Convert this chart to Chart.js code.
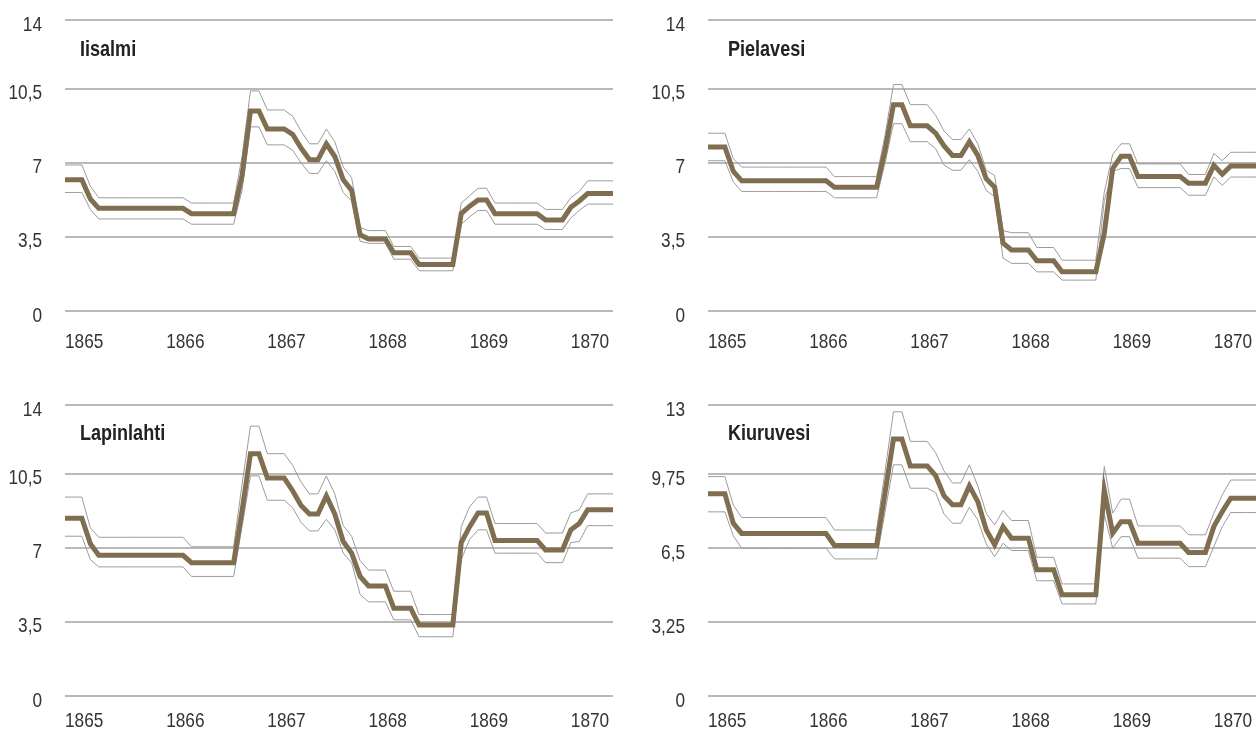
<!DOCTYPE html>
<html>
<head>
<meta charset="utf-8">
<script src="https://cdn.jsdelivr.net/npm/chart.js@4.4.1/dist/chart.umd.min.js"></script>
<style>
html, body { margin: 0; padding: 0; background: #fff; width: 1256px; height: 731px; overflow: hidden; }
.panel { position: absolute; }
.title { position: absolute; font-family: 'Liberation Sans', Arial, sans-serif; font-weight: bold; font-size: 22px; line-height: 1; color: #222; white-space: nowrap; transform: scaleX(0.82); transform-origin: 0 0; }
</style>
</head>
<body>
<div class="panel" style="left:0px;top:0px;width:613px;height:360px"><canvas id="c1"></canvas></div>
<div class="panel" style="left:643px;top:0px;width:613px;height:360px"><canvas id="c2"></canvas></div>
<div class="panel" style="left:0px;top:385px;width:613px;height:346px"><canvas id="c3"></canvas></div>
<div class="panel" style="left:643px;top:385px;width:613px;height:346px"><canvas id="c4"></canvas></div>
<div class="title" style="left:80px;top:38px">Iisalmi</div>
<div class="title" style="left:728px;top:38px">Pielavesi</div>
<div class="title" style="left:80px;top:422px">Lapinlahti</div>
<div class="title" style="left:728px;top:422px">Kiuruvesi</div>
<script>
// ---- tick labels ----
const yearTicks = [0, 12, 24, 36, 48, 60];           // month index of January each year
const yearLabels = ['1865', '1866', '1867', '1868', '1869', '1870'];
const yTicks14 = [0, 3.5, 7, 10.5, 13.75];
const yLabels14 = ['0', '3,5', '7', '10,5', '14'];
const yTicks13 = [0, 3.25, 6.5, 9.75, 12.8];
const yLabels13 = ['0', '3,25', '6,5', '9,75', '13'];

// ---- series (monthly values, Jan 1865 onward) ----
const iisalmiMain = [6.2, 6.2, 6.2, 5.3,
  4.85, 4.85, 4.85, 4.85, 4.85, 4.85, 4.85, 4.85, 4.85, 4.85, 4.85,
  4.6, 4.6, 4.6, 4.6, 4.6, 4.6,
  6.4, 9.45, 9.45, 8.6, 8.6, 8.6, 8.35, 7.7, 7.15, 7.15,
  7.9, 7.3, 6.2, 5.7, 3.6, 3.4, 3.4, 3.4, 2.75, 2.75, 2.75,
  2.2, 2.2, 2.2, 2.2, 2.2,
  4.6, 4.95, 5.25, 5.25,
  4.6, 4.6, 4.6, 4.6, 4.6, 4.6,
  4.3, 4.3, 4.3, 4.9, 5.2,
  5.55, 5.55, 5.55, 5.55];
const iisalmiHigh = [6.9, 6.9, 6.9, 5.9,
  5.35, 5.35, 5.35, 5.35, 5.35, 5.35, 5.35, 5.35, 5.35, 5.35, 5.35,
  5.1, 5.1, 5.1, 5.1, 5.1, 5.1,
  7.3, 10.4, 10.4, 9.5, 9.5, 9.5, 9.2, 8.5, 7.9, 7.9,
  8.6, 8.0, 6.8, 6.3, 3.95, 3.8, 3.8, 3.8, 3.05, 3.05, 3.05,
  2.5, 2.5, 2.5, 2.5, 2.5,
  5.1, 5.45, 5.8, 5.8,
  5.1, 5.1, 5.1, 5.1, 5.1, 5.1,
  4.8, 4.8, 4.8, 5.35, 5.65,
  6.15, 6.15, 6.15, 6.15];
const iisalmiLow = [5.6, 5.6, 5.6, 4.8,
  4.35, 4.35, 4.35, 4.35, 4.35, 4.35, 4.35, 4.35, 4.35, 4.35, 4.35,
  4.1, 4.1, 4.1, 4.1, 4.1, 4.1,
  5.7, 8.7, 8.7, 7.85, 7.85, 7.85, 7.6, 7.0, 6.5, 6.5,
  7.1, 6.6, 5.6, 5.2, 3.3, 3.2, 3.2, 3.2, 2.45, 2.45, 2.45,
  1.9, 1.9, 1.9, 1.9, 1.9,
  4.1, 4.45, 4.75, 4.75,
  4.1, 4.1, 4.1, 4.1, 4.1, 4.1,
  3.85, 3.85, 3.85, 4.4, 4.75,
  5.05, 5.05, 5.05, 5.05];

const pielavesiMain = [7.75, 7.75, 7.75, 6.6,
  6.15, 6.15, 6.15, 6.15, 6.15, 6.15, 6.15, 6.15, 6.15, 6.15, 6.15,
  5.85, 5.85, 5.85, 5.85, 5.85, 5.85,
  7.6, 9.75, 9.75, 8.75, 8.75, 8.75, 8.4, 7.8, 7.35, 7.35,
  8.0, 7.35, 6.25, 5.85, 3.2, 2.88, 2.88, 2.88, 2.38, 2.38, 2.38,
  1.85, 1.85, 1.85, 1.85, 1.85,
  3.66, 6.73, 7.31, 7.31,
  6.35, 6.35, 6.35, 6.35, 6.35, 6.35,
  6.04, 6.04, 6.04, 6.88, 6.46,
  6.85, 6.85, 6.85, 6.85];
const pielavesiHigh = [8.4, 8.4, 8.4, 7.2,
  6.8, 6.8, 6.8, 6.8, 6.8, 6.8, 6.8, 6.8, 6.8, 6.8, 6.8,
  6.35, 6.35, 6.35, 6.35, 6.35, 6.35,
  8.3, 10.7, 10.7, 9.75, 9.75, 9.75, 9.25, 8.5, 8.1, 8.1,
  8.6, 7.9, 6.65, 6.4, 3.8, 3.7, 3.7, 3.7, 3.0, 3.0, 3.0,
  2.4, 2.4, 2.4, 2.4, 2.4,
  5.6, 7.4, 7.9, 7.9,
  6.95, 6.95, 6.95, 6.95, 6.95, 6.95,
  6.45, 6.45, 6.45, 7.45, 7.1,
  7.5, 7.5, 7.5, 7.5];
const pielavesiLow = [7.1, 7.1, 7.1, 6.1,
  5.65, 5.65, 5.65, 5.65, 5.65, 5.65, 5.65, 5.65, 5.65, 5.65, 5.65,
  5.35, 5.35, 5.35, 5.35, 5.35, 5.35,
  7.0, 8.85, 8.85, 8.0, 8.0, 8.0, 7.67, 6.9, 6.65, 6.65,
  7.15, 6.6, 5.7, 5.4, 2.5, 2.25, 2.25, 2.25, 1.85, 1.85, 1.85,
  1.46, 1.46, 1.46, 1.46, 1.46,
  5.2, 6.6, 6.73, 6.73,
  5.83, 5.83, 5.83, 5.83, 5.83, 5.83,
  5.47, 5.47, 5.47, 6.33, 5.94,
  6.33, 6.33, 6.33, 6.33];

const lapinlahtiMain = [8.4, 8.4, 8.4, 7.2,
  6.65, 6.65, 6.65, 6.65, 6.65, 6.65, 6.65, 6.65, 6.65, 6.65, 6.65,
  6.3, 6.3, 6.3, 6.3, 6.3, 6.3,
  8.75, 11.45, 11.45, 10.3, 10.3, 10.3, 9.7, 9.0, 8.6, 8.6,
  9.45, 8.6, 7.3, 6.75, 5.65, 5.2, 5.2, 5.2, 4.15, 4.15, 4.15,
  3.35, 3.35, 3.35, 3.35, 3.35,
  7.25, 8.0, 8.65, 8.65,
  7.35, 7.35, 7.35, 7.35, 7.35, 7.35,
  6.9, 6.9, 6.9, 7.85, 8.15,
  8.8, 8.8, 8.8, 8.8];
const lapinlahtiHigh = [9.4, 9.4, 9.4, 7.95,
  7.5, 7.5, 7.5, 7.5, 7.5, 7.5, 7.5, 7.5, 7.5, 7.5, 7.5,
  7.05, 7.05, 7.05, 7.05, 7.05, 7.05,
  10.0, 12.75, 12.75, 11.45, 11.45, 11.45, 10.9, 10.1, 9.55, 9.55,
  10.4, 9.55, 8.05, 7.55, 6.4, 5.95, 5.95, 5.95, 4.95, 4.95, 4.95,
  3.85, 3.85, 3.85, 3.85, 3.85,
  8.0, 8.95, 9.4, 9.4,
  8.15, 8.15, 8.15, 8.15, 8.15, 8.15,
  7.7, 7.7, 7.7, 8.65, 8.8,
  9.55, 9.55, 9.55, 9.55];
const lapinlahtiLow = [7.55, 7.55, 7.55, 6.45,
  6.1, 6.1, 6.1, 6.1, 6.1, 6.1, 6.1, 6.1, 6.1, 6.1, 6.1,
  5.65, 5.65, 5.65, 5.65, 5.65, 5.65,
  8.0, 10.4, 10.4, 9.25, 9.25, 9.25, 8.9, 8.2, 7.8, 7.8,
  8.35, 7.85, 6.75, 6.3, 4.8, 4.45, 4.45, 4.45, 3.6, 3.6, 3.6,
  2.8, 2.8, 2.8, 2.8, 2.8,
  6.45, 7.4, 7.85, 7.85,
  6.75, 6.75, 6.75, 6.75, 6.75, 6.75,
  6.3, 6.3, 6.3, 7.25, 7.3,
  8.05, 8.05, 8.05, 8.05];

const kiuruvesiMain = [8.9, 8.9, 8.9, 7.6,
  7.15, 7.15, 7.15, 7.15, 7.15, 7.15, 7.15, 7.15, 7.15, 7.15, 7.15,
  6.62, 6.62, 6.62, 6.62, 6.62, 6.62,
  8.95, 11.3, 11.3, 10.12, 10.12, 10.12, 9.7, 8.8, 8.41, 8.41,
  9.24, 8.55, 7.31, 6.65, 7.45, 6.94, 6.94, 6.94, 5.55, 5.55, 5.55,
  4.45, 4.45, 4.45, 4.45, 4.45,
  9.07, 7.16, 7.67, 7.67,
  6.72, 6.72, 6.72, 6.72, 6.72, 6.72,
  6.31, 6.31, 6.31, 7.45, 8.11,
  8.7, 8.7, 8.7, 8.7];
const kiuruvesiHigh = [9.65, 9.65, 9.65, 8.4,
  7.85, 7.85, 7.85, 7.85, 7.85, 7.85, 7.85, 7.85, 7.85, 7.85, 7.85,
  7.3, 7.3, 7.3, 7.3, 7.3, 7.3,
  9.9, 12.5, 12.5, 11.2, 11.2, 11.2, 10.7, 9.9, 9.37, 9.37,
  10.17, 9.24, 8.04, 7.53, 8.16, 7.72, 7.72, 7.72, 6.1, 6.1, 6.1,
  4.93, 4.93, 4.93, 4.93, 4.93,
  10.1, 8.04, 8.66, 8.66,
  7.48, 7.48, 7.48, 7.48, 7.48, 7.48,
  7.09, 7.09, 7.09, 8.04, 8.85,
  9.5, 9.5, 9.5, 9.5];
const kiuruvesiLow = [8.1, 8.1, 8.1, 7.05,
  6.5, 6.5, 6.5, 6.5, 6.5, 6.5, 6.5, 6.5, 6.5, 6.5, 6.5,
  6.03, 6.03, 6.03, 6.03, 6.03, 6.03,
  8.1, 10.17, 10.17, 9.14, 9.14, 9.14, 8.95, 8.0, 7.6, 7.6,
  8.3, 7.75, 6.69, 6.13, 6.72, 6.4, 6.4, 6.4, 5.07, 5.07, 5.07,
  4.05, 4.05, 4.05, 4.05, 4.05,
  8.0, 6.5, 7.01, 7.01,
  6.06, 6.06, 6.06, 6.06, 6.06, 6.06,
  5.69, 5.69, 5.69, 6.57, 7.45,
  8.07, 8.07, 8.07, 8.07];

// ---- drawing ----
const FONT = "'Liberation Sans', Arial, sans-serif";
const SQUEEZE = 0.82;
const MAIN_COLOR = '#7f6f50';
const BAND_COLOR = '#9b9b9b';
const GRID_COLOR = '#b9b9b9';
const TEXT_COLOR = '#333333';

function pts(arr) { return arr.map((v, i) => ({ x: i, y: v })); }

function drawSqueezed(ctx, text, x, y) {
  ctx.save();
  ctx.translate(x, y);
  ctx.scale(SQUEEZE, 1);
  ctx.fillText(text, 0, 0);
  ctx.restore();
}

// Draws axis labels (condensed) at positions given by the chart's own scales
const axisLabelPlugin = {
  id: 'axisLabels',
  afterDraw(chart, args, opts) {
    const ctx = chart.ctx;
    const xs = chart.scales.x, ys = chart.scales.y, area = chart.chartArea;
    ctx.save();
    ctx.fillStyle = TEXT_COLOR;
    ctx.font = '21px ' + FONT;
    ctx.textBaseline = 'alphabetic';
    ctx.textAlign = 'left';
    yearTicks.forEach((v, i) => drawSqueezed(ctx, yearLabels[i], xs.getPixelForValue(v), area.bottom + opts.xBase));
    ctx.textAlign = 'right';
    opts.yTicks.forEach((v, i) => drawSqueezed(ctx, opts.yLabels[i], area.left - 23, ys.getPixelForValue(v) + 10.5));
    ctx.restore();
  }
};

function makeChart(id, main, high, low, yTicks, yLabels, yMax, xAxisHeight, xBase) {
  new Chart(document.getElementById(id), {
    type: 'line',
    data: {
      datasets: [
        { data: pts(main), borderColor: MAIN_COLOR, borderWidth: 5, pointRadius: 0, tension: 0, borderJoinStyle: 'miter' },
        { data: pts(high), borderColor: BAND_COLOR, borderWidth: 1, pointRadius: 0, tension: 0 },
        { data: pts(low), borderColor: BAND_COLOR, borderWidth: 1, pointRadius: 0, tension: 0 }
      ]
    },
    plugins: [axisLabelPlugin],
    options: {
      responsive: true,
      maintainAspectRatio: false,
      animation: false,
      events: [],
      layout: { autoPadding: false, padding: { left: 0, right: 0, top: 20, bottom: 0 } },
      plugins: {
        legend: { display: false }, tooltip: { enabled: false }, title: { display: false },
        axisLabels: { yTicks: yTicks, yLabels: yLabels, xBase: xBase }
      },
      scales: {
        x: {
          type: 'linear', min: 0, max: main.length - 1,
          grid: { display: false, drawTicks: false },
          border: { display: false },
          ticks: { display: false },
          afterBuildTicks: s => { s.ticks = yearTicks.map(v => ({ value: v })); },
          afterFit: s => { s.height = xAxisHeight; s.paddingLeft = 0; s.paddingRight = 0; }
        },
        y: {
          min: 0, max: yMax,
          grid: { color: GRID_COLOR, lineWidth: 2, drawTicks: false },
          border: { display: false },
          ticks: { display: false },
          afterBuildTicks: s => { s.ticks = yTicks.map(v => ({ value: v })); },
          afterFit: s => { s.width = 65; s.paddingTop = 0; s.paddingBottom = 0; }
        }
      }
    }
  });
}

makeChart('c1', iisalmiMain, iisalmiHigh, iisalmiLow, yTicks14, yLabels14, 13.75, 49, 37);
makeChart('c2', pielavesiMain, pielavesiHigh, pielavesiLow, yTicks14, yLabels14, 13.75, 49, 37);
makeChart('c3', lapinlahtiMain, lapinlahtiHigh, lapinlahtiLow, yTicks14, yLabels14, 13.75, 35, 31);
makeChart('c4', kiuruvesiMain, kiuruvesiHigh, kiuruvesiLow, yTicks13, yLabels13, 12.8, 35, 31);
</script>
</body>
</html>
